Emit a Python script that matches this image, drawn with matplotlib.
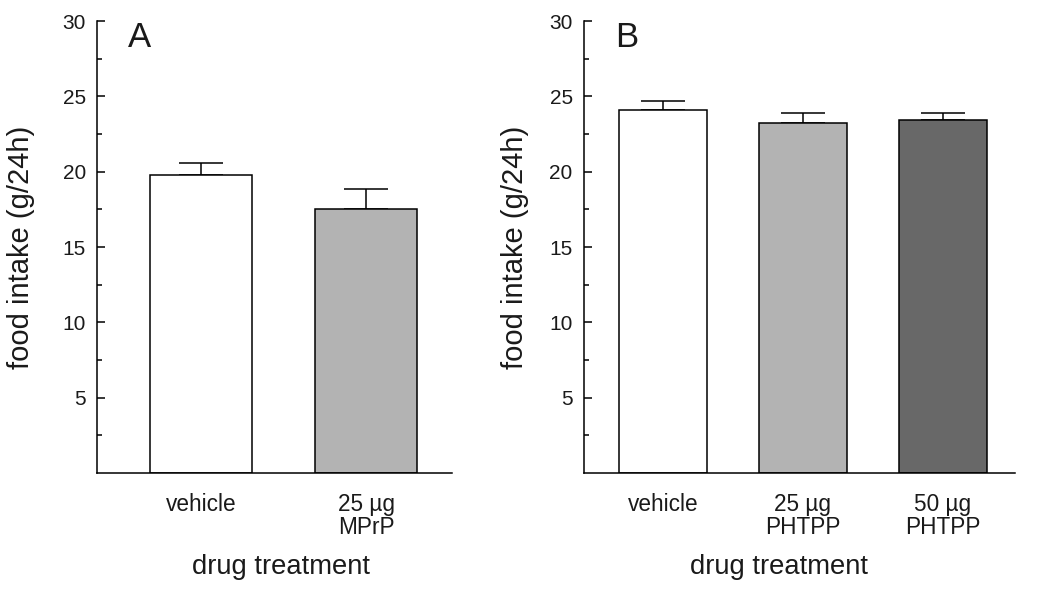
import matplotlib
matplotlib.use("Agg")
import matplotlib.pyplot as plt
import numpy as np

plt.rcParams['font.family'] = ['Liberation Sans', 'DejaVu Sans']

# Panel A data
cats_a = ["vehicle", "25 µg\nMPrP"]
vals_a = [19.8, 17.5]
errs_a = [0.8, 1.35]
cols_a = ["#ffffff", "#b3b3b3"]

# Panel B data
cats_b = ["vehicle", "25 µg\nPHTPP", "50 µg\nPHTPP"]
vals_b = [24.1, 23.2, 23.4]
errs_b = [0.6, 0.7, 0.5]
cols_b = ["#ffffff", "#b3b3b3", "#686868"]

yticks = [5, 10, 15, 20, 25, 30]
minor_ticks = [2.5, 7.5, 12.5, 17.5, 22.5, 27.5]

txt = "#1a1a1a"
fig = plt.figure(figsize=(10.5, 5.92), dpi=100)
axA = fig.add_axes([0.0924, 0.201, 0.3381, 0.7635])
axB = fig.add_axes([0.556, 0.201, 0.4107, 0.7635])

def draw(ax, cats, vals, errs, cols, width, xlim, letter, lx, xl_x, yl_x):
    x = np.arange(len(cats))
    ax.bar(x, vals, width=width, color=cols, edgecolor="black", linewidth=1.1, zorder=2)
    ax.errorbar(x, vals, yerr=[np.zeros(len(vals)), errs], fmt="none",
                ecolor="black", elinewidth=1.1, capsize=16, capthick=1.1, zorder=1)
    ax.set_xlim(*xlim)
    ax.set_ylim(0, 30)
    ax.set_yticks(yticks)
    ax.set_yticks(minor_ticks, minor=True)
    ax.set_xticks(x)
    ax.set_xticklabels(cats, fontsize=16.3, color=txt, linespacing=1.0)
    ax.tick_params(axis="x", length=0, pad=14.5)
    ax.tick_params(axis="y", which="major", direction="in", length=6, width=1.1,
                   labelsize=15, labelcolor=txt, pad=8)
    ax.tick_params(axis="y", which="minor", direction="in", length=3.6, width=1.1)
    for s in ["top", "right"]:
        ax.spines[s].set_visible(False)
    for s in ["left", "bottom"]:
        ax.spines[s].set_linewidth(1.1)
    ax.set_xlabel("drug treatment", fontsize=19.7, color=txt)
    ax.xaxis.set_label_coords(xl_x, -0.208)
    ax.xaxis.label.set_va("center")
    ax.set_ylabel("food intake (g/24h)", fontsize=21, color=txt)
    ax.yaxis.set_label_coords(yl_x, 0.5)
    ax.yaxis.label.set_va("center")
    ax.text(lx, 0.963, letter, transform=ax.transAxes, fontsize=25, color=txt,
            ha="left", va="center")

draw(axA, cats_a, vals_a, errs_a, cols_a, 0.618, (-0.63, 1.52), "A", 0.087, 0.518, -0.213)
draw(axB, cats_b, vals_b, errs_b, cols_b, 0.63, (-0.564, 2.514), "B", 0.072, 0.452, -0.160)

fig.savefig("out.png", dpi=100)
